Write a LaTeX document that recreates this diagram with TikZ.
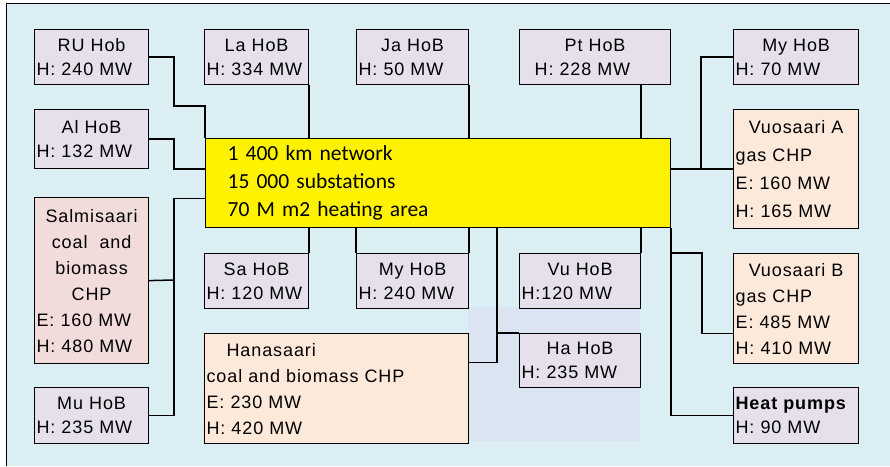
\documentclass[tikz,border=0pt]{standalone}
\usepackage{fontspec}
\setmainfont{Liberation Sans}[LetterSpace=5]
\newfontfamily\netfont{Carlito}
\usepackage{tikz}
\usetikzlibrary{shadows}
\definecolor{bgblue}{HTML}{DAEEF3}
\definecolor{hoblilac}{HTML}{E5E0EC}
\definecolor{chppeach}{HTML}{FDE9D9}
\definecolor{salpink}{HTML}{F2DCDB}
\definecolor{shadeblue}{HTML}{DBE5F1}
\newcommand{\boxtitle}[1]{\makebox[\hsize]{#1}}

\begin{document}
\begin{tikzpicture}[
  x=1pt, y=-1pt,
  font=\fontsize{18}{24}\selectfont,
  box/.style={draw, line width=1.2pt, anchor=north west, inner xsep=2pt, inner ysep=0pt,
              align=left, drop shadow={shadow xshift=0.8pt, shadow yshift=-0.8pt, fill=black, opacity=1}},
  hob/.style={box, fill=hoblilac, text width=#1, minimum height=55pt},
  chp/.style={box, fill=chppeach},
  tall/.style={font=\fontsize{18}{26}\selectfont},
  link/.style={line width=1.5pt}
]
\useasboundingbox (0,0) rectangle (890,466);

%% Background
\fill[white] (0,0) rectangle (890,466);
\fill[bgblue] (6,3) rectangle (890,466);
\draw[line width=1.6pt] (6.5,466) -- (6.5,3.5) -- (890,3.5);
\fill[shadeblue] (468,307) rectangle (640,441);

%% Network
\node[box, fill=yellow, inner xsep=22pt, text width=421pt, minimum height=89pt,
      font=\netfont\fontsize{21.5}{28}\selectfont] (yel) at (205,138)
      {1 400 km network\\15 000 substations\\70 M m2 heating area};

%% Left column
\node[hob=110pt] (ru) at (34,29)  {\boxtitle{RU Hob}\\H: 240 MW};
\node[hob=110pt, minimum height=59pt] (al) at (34,109) {\boxtitle{Al HoB}\\H: 132 MW};
\node[box, tall, fill=salpink, text width=110pt, minimum height=166pt] (sal) at (34,197)
      {\boxtitle{Salmisaari}\\\boxtitle{coal\ \ and}\\\boxtitle{biomass}\\\boxtitle{CHP}\\E: 160 MW\\H: 480 MW};
\node[hob=110pt, minimum height=56pt] (mu) at (34,387) {\boxtitle{Mu HoB}\\H: 235 MW};

%% Top row
\node[hob=100pt] (la) at (204,29) {\boxtitle{La HoB}\\H: 334 MW};
\node[hob=108pt] (ja) at (356,29) {\boxtitle{Ja HoB}\\H: 50 MW};
\node[hob=147pt] (pt) at (519,29) {\boxtitle{Pt HoB}\\\hspace*{13pt}H: 228 MW};

%% Right column
\node[hob=121pt] (my) at (733,29) {\boxtitle{My HoB}\\H: 70 MW};
\node[chp, font=\fontsize{18}{28}\selectfont, text width=121pt, minimum height=119pt] (vua) at (733,109)
      {\boxtitle{Vuosaari A}\\gas CHP\\E: 160 MW\\H: 165 MW};
\node[chp, tall, text width=121pt, minimum height=110pt] (vub) at (733,253)
      {\boxtitle{Vuosaari B}\\gas CHP\\E: 485 MW\\H: 410 MW};
\node[hob=121pt, minimum height=56pt] (hp) at (733,387) {\textbf{Heat pumps}\\H: 90 MW};

%% Bottom row
\node[hob=100pt] (sa)  at (204,253) {\boxtitle{Sa HoB}\\H: 120 MW};
\node[hob=108pt] (myb) at (356,253) {\boxtitle{My HoB}\\H: 240 MW};
\node[hob=117pt] (vu)  at (519,253) {\boxtitle{Vu HoB}\\H:120 MW};
\node[chp, tall, text width=260pt, minimum height=110pt] (han) at (204,333)
      {\hspace*{20pt}Hanasaari\\coal and biomass CHP\\E: 230 MW\\H: 420 MW};
\node[hob=117pt, minimum height=54pt] (ha) at (519,333) {\boxtitle{Ha HoB}\\H: 235 MW};

%% Left links
\coordinate (lbus) at (173,280);
\draw[link] (ru.east) -| ++(25,49) -| (yel.north west);
\draw[link] (al.east) -| ++(25,30) -- ([yshift=14pt]yel.west);
\draw[link] (mu.east) -- ++(25,0) |- ([yshift=-15.5pt]yel.west);
\draw[link] (sal.east) -- (lbus);

%% Top links
\draw[link] (la.south east) -- (la.south east |- yel.north);
\draw[link] (ja.south east) -- (ja.south east |- yel.north);
\draw[link] (pt.south -| vu.east) -- (yel.north -| vu.east);
\draw[link] (my.west) -- ++(-32,0) |- (vua.west);
\draw[link] (yel.east |- vua.west) -- (vua.west);

%% Bottom links
\coordinate (hbus) at (497,333);
\draw[link] (yel.south -| sa.east) -- (sa.north east);
\draw[link] (yel.south -| myb.west) -- (myb.north west);
\draw[link] (yel.south -| myb.east) -- (myb.north east);
\draw[link] (yel.south -| vu.east) -- (vu.north east);
\draw[link] (yel.south -| hbus) |- ([yshift=26pt]han.east);
\draw[link] (hbus) -- (ha.north west);

%% Right links
\draw[link] (yel.south east) |- (hp.west);
\draw[link] (yel.east |- vub.north) -- ++(31,0) |- ([yshift=-25pt]vub.west);

\end{tikzpicture}
\end{document}
